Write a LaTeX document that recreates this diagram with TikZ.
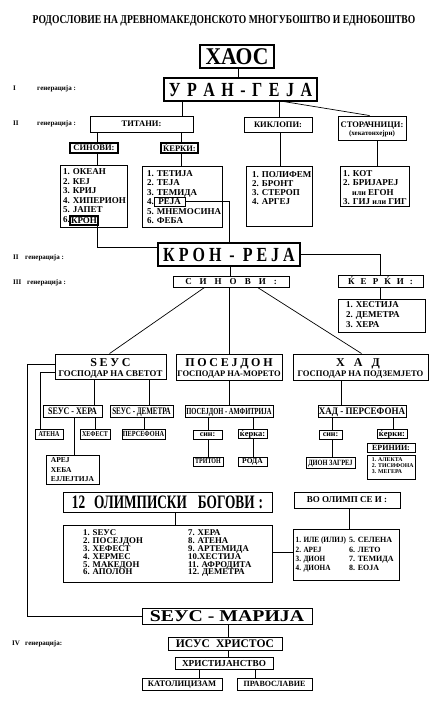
\documentclass[tikz,border=0pt]{standalone}
\usepackage{fontspec}
\setmainfont{Liberation Serif}
\newfontfamily\fN{Liberation Serif}
\newfontfamily\fA{Liberation Serif}[FakeStretch=0.8]
\newfontfamily\fB{Liberation Serif}[FakeStretch=0.7]
\newfontfamily\fC{Liberation Serif}[FakeStretch=0.9]
\newfontfamily\fW{Liberation Serif}[FakeStretch=1.2]
\usetikzlibrary{calc}
\newcommand\fs[2][\fN]{#1\fontsize{#2}{#2}\bfseries}
\newlength\gsp
\newcommand\g{\hspace{\gsp}}
\newcommand\bx[6][]{\node[bx,minimum width={#5-#3},minimum height={#6-#4},#1] (#2) at ({(#3+#5)/2},{(#4+#6)/2})}
\newcommand\vc[3]{\coordinate (vcx) at (#3,0); \draw[ln] (#1.south -| vcx) -- (#2.north -| vcx);}
\newcommand\rows[6]{\foreach \t [count=\i] in {#6} {\node[tx,font={#5}] (#1\i) at (#2,{#3+(\i-1)*#4}) {\t};}}
\tikzset{
  bx/.style={draw,line width=0.9pt,inner sep=0pt,text depth=0pt,align=center},
  big/.style={line width=1.3pt},
  thk/.style={line width=1.5pt},
  ln/.style={line width=0.7pt},
  tx/.style={anchor=base west,inner sep=0pt}
}
\begin{document}
\begin{tikzpicture}[x=1pt,y=-1pt]
\fill[white] (0,0) rectangle (443,701);
\useasboundingbox (0,0) rectangle (443,701);

% title
\node[tx,anchor=base,font={\fs[\fA]{12}}] (title) at (224,23.5) {РОДОСЛОВИЕ НА ДРЕВНОМАКЕДОНСКОТО МНОГУБОШТВО И ЕДНОБОШТВО};

% generation labels
\node[tx,font={\fs{7}}] (g1a) at (13,90.5) {I};
\node[tx,font={\fs{7}}] (g1b) at (37,90.5) {генерација :};
\node[tx,font={\fs{7}}] (g2a) at (13,125.5) {II};
\node[tx,font={\fs{7}}] (g2b) at (37,125.5) {генерација :};
\node[tx,font={\fs{7}}] (g3a) at (13,259.5) {II};
\node[tx,font={\fs{7}}] (g3b) at (25,259.5) {генерација :};
\node[tx,font={\fs{7}}] (g4a) at (13,284.5) {III};
\node[tx,font={\fs{7}}] (g4b) at (27,284.5) {генерација :};
\node[tx,font={\fs{7}}] (g5a) at (12,645.5) {IV};
\node[tx,font={\fs{7}}] (g5b) at (25,645.5) {генерација:};

% top
\bx[big,font={\fs[\fC]{24}}]{haos}{200}{45}{274}{68}{ХАОС};
\bx[big,font={\fs[\fA]{20}}]{uran}{164}{78}{317}{101}{\setlength\gsp{6.5pt}У\g Р\g А\g Н\g -\g Г\g Е\g Ј\g А};

\bx[font={\fs{8.5}}]{titani}{90}{116}{193}{132}{ТИТАНИ:};
\bx[font={\fs{8.5}}]{kiklopi}{244}{117}{312}{132}{КИКЛОПИ:};
\bx{storac}{338}{116}{406}{140}{};
\node[tx,anchor=base,font={\fs{8.5}}] (storacT) at (372,127) {СТОРАЧНИЦИ:};
\node[tx,anchor=base,font={\fs{7}}] (storacS) at (372,135.5) {(хекатонхејри)};

\bx[thk,font={\fs{8.5}}]{sinA}{70}{143}{118}{153}{СИНОВИ:};
\bx[thk,font={\fs{8.5}}]{kerA}{161}{143}{198}{153}{ЌЕРКИ:};

\bx{sonsL}{60}{165}{127}{227}{};
\rows{son}{63}{174.6}{9.5}{\fs{9}}{1. ОКЕАН,2. КЕЈ,3. КРИЈ,4. ХИПЕРИОН,5. ЈАПЕТ,6.}
\bx[line width=1.3pt,font={\fs{9}}]{kronB}{70}{216}{98}{225}{КРОН};

\bx{dauL}{142}{166}{222}{227}{};
\rows{dau}{147}{176.2}{9.5}{\fs{9}}{1. ТЕТИЈА,2. ТЕЈА,3. ТЕМИДА,4.,5. МНЕМОСИНА,6. ФЕБА}
\bx[font={\fs{9}}]{rejaB}{154}{197}{185}{206}{РЕЈА};

\bx{cycL}{246}{166}{312}{226}{};
\rows{cyc}{252}{177}{9.3}{\fs{9}}{1. ПОЛИФЕМ,2. БРОНТ,3. СТЕРОП,4. АРГЕЈ}
\bx{hecL}{340}{166}{409}{206}{};
\rows{hec}{343}{176.3}{9.4}{\fs{9}}{1. КОТ,2. БРИЈАРЕЈ,\hspace{9pt}{\fs{8}или} ЕГОН,3. ГИЈ {\fs{8}или} ГИГ}

% Kron - Reja
\bx[big,font={\fs[\fA]{20}}]{kr}{158}{243}{300}{266}{\setlength\gsp{4pt}К\g Р\g О\g Н\hspace{8pt}-\hspace{8pt}Р\g Е\g Ј\g А};
\bx[font={\fs{9}}]{sinB}{173}{276}{289}{287}{\setlength\gsp{8pt}С\g И\g Н\g О\g В\g И\g :};
\bx[font={\fs{9}}]{kerB}{338}{275}{423}{287}{\setlength\gsp{6pt}Ќ\g Е\g Р\g Ќ\g И\g :};
\bx{dauB}{338}{299}{425}{332}{};
\rows{dauBr}{346}{307}{10}{\fs{9}}{1. ХЕСТИЈА,2. ДЕМЕТРА,3. ХЕРА}

% three sons
\bx{seus}{55}{354}{166}{379}{};
\node[tx,anchor=base,font={\fs{12}}] (seusT) at (110.5,366) {\setlength\gsp{2.7pt}Ѕ\g Е\g У\g С};
\node[tx,anchor=base,font={\fs{8.8}}] (seusG) at (110.5,376.5) {ГОСПОДАР НА СВЕТОТ};
\bx{pos}{176}{354}{282}{380}{};
\node[tx,anchor=base,font={\fs{12}}] (posT) at (229,366) {\setlength\gsp{2.7pt}П\g О\g С\g Е\g Ј\g Д\g О\g Н};
\node[tx,anchor=base,font={\fs{8.5}}] (posG) at (229,376.5) {ГОСПОДАР НА-МОРЕТО};
\bx{had}{293}{354}{428}{380}{};
\node[tx,anchor=base,font={\fs{12}}] (hadT) at (358,366) {\setlength\gsp{9pt}Х\g А\g Д};
\node[tx,anchor=base,font={\fs{8.6}}] (hadG) at (360.5,376.5) {ГОСПОДАР НА ПОДЗЕМЈЕТО};

\bx[font={\fs[\fA]{10}}]{sh}{43}{405}{102}{417}{ЅЕУС - ХЕРА};
\bx[font={\fs[\fB]{10}}]{sd}{110}{405}{173}{417}{ЅЕУС - ДЕМЕТРА};
\bx[font={\fs[\fB]{9.3}}]{pa}{185}{405}{273}{417}{ПОСЕЈДОН - АМФИТРИЈА};
\bx[font={\fs[\fC]{10}}]{hp}{318}{405}{406}{417}{ХАД - ПЕРСЕФОНА};

\bx[font={\fs[\fA]{7.5}}]{atena}{35}{429}{63}{439}{АТЕНА};
\bx[font={\fs[\fA]{7.5}}]{hefest}{80}{429}{110}{439}{ХЕФЕСТ};
\bx[font={\fs[\fA]{7.8}}]{persef}{122}{429}{165}{439}{ПЕРСЕФОНА};
\bx[font={\fs{8}}]{pSin}{193}{430}{222}{439}{син:};
\bx[font={\fs{8.5}}]{pKer}{238}{429}{267}{438}{ќерка:};
\bx[font={\fs{8}}]{hSin}{319}{430}{342}{439}{син:};
\bx[font={\fs{8.5}}]{hKer}{377}{429}{407}{438}{ќерки:};
\bx[font={\fs{8}}]{erin}{367}{443}{415}{452}{ЕРИНИИ:};
\bx{erL}{367}{455}{415}{479}{};
\rows{er}{371.7}{461.9}{5.9}{\fs{5.8}}{1. АЛЕКТА,2. ТИСИФОНА,3. МЕГЕРА}
\bx[font={\fs[\fA]{7.5}}]{triton}{193}{457}{223}{466}{ТРИТОН};
\bx[font={\fs{7.5}}]{roda}{238}{457}{267}{466}{РОДА};
\bx[font={\fs[\fA]{8}}]{dion}{306}{457}{355}{468}{ДИОН ЗАГРЕЈ};
\bx{arej}{46}{455}{99}{484}{};
\rows{ar}{50.7}{462.5}{9.5}{\fs{7.5}}{АРЕЈ,ХЕБА,ЕЈЛЕЈТИЈА}

% olympians
\bx[font={\fs[\fB]{19}}]{ol}{63}{492}{272}{512}{12\hspace{9pt}ОЛИМПИСКИ\hspace{11pt}БОГОВИ\hspace{4pt}:};
\bx{olL}{63}{525}{272}{582}{};
\rows{oa}{83}{535.9}{7.8}{\fs{8.8}}{1. ЅЕУС,2. ПОСЕЈДОН,3. ХЕФЕСТ,4. ХЕРМЕС,5. МАКЕДОН,6. АПОЛОН}
\rows{ob}{188}{535.9}{7.8}{\fs{8.8}}{7. ХЕРА,8. АТЕНА,9. АРТЕМИДА,10.ХЕСТИЈА,11. АФРОДИТА,12. ДЕМЕТРА}
\bx[font={\fs{9}}]{vo}{294}{492}{400}{508}{ВО ОЛИМП СЕ И :};
\bx{voL}{293}{529}{399}{580}{};
\rows{va}{295.5}{542.7}{9.3}{\fs[\fC]{8}}{1. ИЛЕ (ИЛИЈ),2. АРЕЈ,3. ДИОН,4. ДИОНА}
\rows{vb}{349}{542.7}{9.3}{\fs{8}}{5. СЕЛЕНА,6. ЛЕТО,7. ТЕМИДА,8. ЕОЈА}

% bottom
\bx[font={\fs[\fW]{16.5}}]{sm}{142}{608}{312}{624}{ЅЕУС - МАРИЈА};
\bx[font={\fs{11.6}}]{isus}{168}{637}{282}{650}{ИСУС\hspace{6pt}ХРИСТОС};
\bx[font={\fs{9.2}}]{hr}{175}{657}{273}{669}{ХРИСТИЈАНСТВО};
\bx[font={\fs{8.5}}]{kat}{142}{678}{222}{690}{КАТОЛИЦИЗАМ};
\bx[font={\fs{8}}]{prav}{237}{678}{312}{690}{ПРАВОСЛАВИЕ};

% connectors
\vc{haos}{uran}{238}
\vc{uran}{titani}{182}
\vc{uran}{kiklopi}{279}
\draw[ln] ($(uran.south west)+(121,0)$) -- ($(storac.north west)+(32,0)$);
\vc{titani}{sinA}{97}
\vc{titani}{kerA}{181}
\vc{sinA}{sonsL}{97}
\vc{kerA}{dauL}{181}
\vc{kiklopi}{cycL}{280}
\vc{storac}{hecL}{377}
\draw[ln] ($(kronB.south east)+(-1,0)$) |- ($(kr.north west)+(0,5)$);
\draw[ln] (rejaB.east) -| ($(kr.north west)+(72,0)$);
\draw[ln] (kr.east) -| (kerB.north);
\vc{kr}{sinB}{230}
\vc{kerB}{dauB}{380}
\draw[ln] ($(sinB.south west)+(32,0)$) -- ($(seus.north west)+(55,0)$);
\vc{sinB}{pos}{229}
\draw[ln] ($(sinB.south west)+(85,0)$) -- ($(had.north west)+(69,0)$);
\draw[ln] ($(seus.north west)+(0,11)$) -- ++(-27,0) |- (sm.west);
\draw[ln] ($(seus.north west)+(0,19)$) -| ($(atena.north west)+(6,0)$);
\vc{seus}{sh}{94}
\vc{seus}{sd}{149}
\vc{sh}{hefest}{95}
\vc{sh}{arej}{74}
\vc{sd}{persef}{144}
\vc{pos}{pa}{229}
\vc{pa}{pSin}{208}
\vc{pa}{pKer}{253}
\vc{pSin}{triton}{208}
\vc{pKer}{roda}{253}
\vc{had}{hp}{341}
\vc{hp}{hSin}{332}
\vc{hp}{hKer}{393}
\vc{hSin}{dion}{332}
\vc{ol}{olL}{175}
\vc{vo}{voL}{349}
\draw[ln] ($(olL.north east)+(0,28)$) -- ($(voL.north west)+(0,24)$);
\vc{sm}{isus}{228}
\vc{isus}{hr}{228}
\vc{hr}{kat}{199}
\vc{hr}{prav}{255}
\end{tikzpicture}
\end{document}
